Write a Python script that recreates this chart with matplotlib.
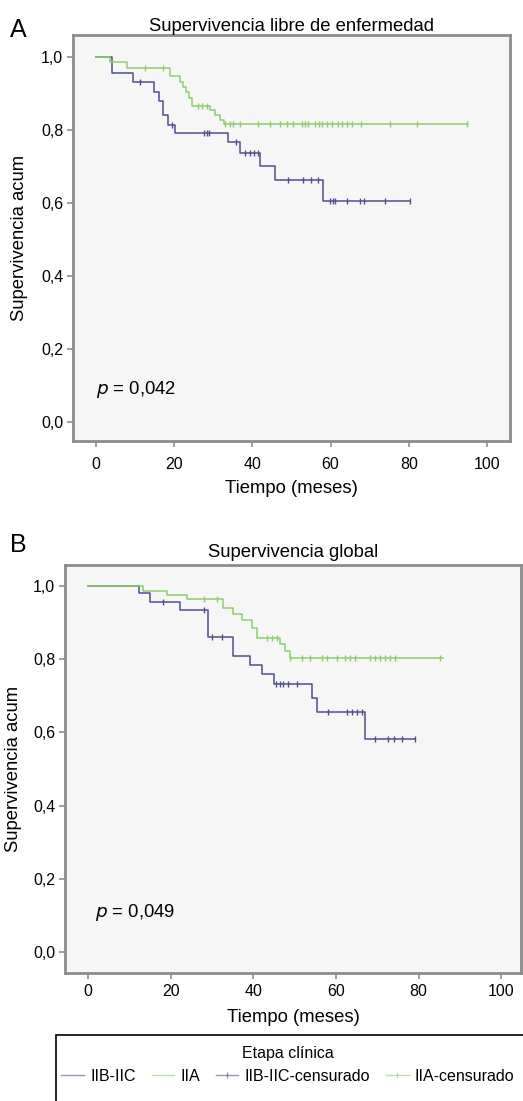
import numpy as np
import matplotlib
matplotlib.use("Agg")
import matplotlib.pyplot as plt
from matplotlib.lines import Line2D
from matplotlib.patches import Rectangle

plt.rcParams['font.family'] = ['Liberation Sans', 'DejaVu Sans']

# ── data ──────────────────────────────────────────────────────────────────────
# A: Supervivencia libre de enfermedad
a_blue_t    = [0, 4.1, 9.5, 14.7, 16.0, 17.2, 18.5, 20.2, 33.8, 36.8, 42.0, 45.8, 58.1]
a_blue_s    = [1.0, 0.956, 0.932, 0.905, 0.878, 0.841, 0.814, 0.792, 0.768, 0.736, 0.700, 0.663, 0.604]
a_blue_cens = [11.3, 19.5, 27.5, 28.3, 29.0, 35.8, 38.0, 39.5, 40.5, 41.5, 49.0, 52.9, 55.0,
               56.7, 59.8, 60.5, 61.2, 64.2, 67.6, 68.5, 74.0, 80.3]
a_blue_end  = 80.3

a_green_t    = [0, 3.6, 7.8, 19.0, 21.5, 22.3, 23.0, 23.8, 24.6, 29.2, 30.4, 31.7, 32.7]
a_green_s    = [1.0, 0.985, 0.970, 0.948, 0.932, 0.918, 0.903, 0.887, 0.866, 0.855, 0.841, 0.827, 0.816]
a_green_cens = [12.5, 17.2, 26.0, 27.2, 28.3, 33.0, 34.3, 35.1, 36.8, 41.5, 44.5, 47.1, 48.8,
                50.5, 52.6, 53.5, 54.3, 56.0, 57.0, 57.7, 59.0, 60.3, 62.0, 62.8, 64.1, 65.4,
                67.9, 75.2, 82.0, 94.8]
a_green_end  = 95.2

# B: Supervivencia global
b_blue_t    = [0, 12.4, 15.0, 22.3, 29.0, 35.0, 39.2, 42.0, 44.9, 54.2, 55.4, 67.1]
b_blue_s    = [1.0, 0.980, 0.957, 0.934, 0.861, 0.809, 0.784, 0.760, 0.731, 0.694, 0.656, 0.582]
b_blue_cens = [18.2, 28.1, 30.0, 32.4, 45.5, 46.5, 47.3, 48.5, 50.5, 58.2, 62.6, 64.0, 65.2,
               66.2, 69.5, 72.7, 74.0, 76.0, 79.2]
b_blue_end  = 79.2

b_green_t    = [0, 13.4, 19.0, 23.9, 32.7, 35.2, 37.2, 39.6, 40.8, 46.5, 47.7, 48.9]
b_green_s    = [1.0, 0.987, 0.975, 0.964, 0.940, 0.923, 0.907, 0.885, 0.857, 0.840, 0.822, 0.802]
b_green_cens = [28.0, 31.1, 43.4, 44.5, 45.7, 48.9, 51.7, 53.8, 56.6, 57.9, 60.2, 62.2, 63.4,
                64.6, 68.3, 69.5, 70.7, 71.9, 73.1, 74.3, 85.2]
b_green_end  = 86.0

x_ticks  = [0, 20, 40, 60, 80, 100]
y_ticks  = [0.0, 0.2, 0.4, 0.6, 0.8, 1.0]
y_labels = ['0,0', '0,2', '0,4', '0,6', '0,8', '1,0']
p_values = ['0,042', '0,049']
groups   = ['IIB-IIC', 'IIA', 'IIB-IIC-censurado', 'IIA-censurado']

BLUE  = '#4f4f8c'
GREEN = '#8fcd6e'


def km_curve(ax, t, s, cens, t_end, color):
    t_all = list(t) + [t_end]
    s_all = list(s) + [s[-1]]
    ax.step(t_all, s_all, where='post', color=color, lw=1.1, zorder=3)
    idx = np.searchsorted(t, cens, side='right') - 1
    ax.plot(cens, np.asarray(s)[idx], ls='none', marker='|', ms=5, mew=1.0,
            color=color, zorder=4)


def style_axes(ax, xlim, ylim, xpad, xlabpad, ylabpad):
    ax.set_facecolor('#f6f6f6')
    ax.set_xlim(*xlim)
    ax.set_ylim(*ylim)
    ax.set_xticks(x_ticks)
    ax.set_yticks(y_ticks)
    ax.set_yticklabels(y_labels)
    for sp in ax.spines.values():
        sp.set_color('#8c8c8c')
        sp.set_linewidth(2.0)
    ax.tick_params(direction='out', length=4, width=1.2, color='#8c8c8c',
                   labelsize=11.5, pad=3)
    ax.tick_params(axis='x', pad=xpad)
    ax.set_ylabel('Supervivencia acum', fontsize=13.3, labelpad=ylabpad)
    ax.set_xlabel('Tiempo (meses)', fontsize=13.3, labelpad=xlabpad)


fig = plt.figure(figsize=(5.23, 11.01), dpi=100)

# ── panel A ───────────────────────────────────────────────────────────────────
axA = fig.add_axes([73 / 523, 1 - 441 / 1101, 437 / 523, 406 / 1101])
km_curve(axA, a_blue_t, a_blue_s, a_blue_cens, a_blue_end, BLUE)
km_curve(axA, a_green_t, a_green_s, a_green_cens, a_green_end, GREEN)
style_axes(axA, (-5.9, 105.9), (-0.052, 1.060), xpad=7.5, xlabpad=6, ylabpad=9.5)
axA.set_title('Supervivencia libre de enfermedad', fontsize=13.3, pad=3)
axA.text(0, 0.09, r'$p$ = ' + p_values[0], fontsize=13.3, va='center', ha='left')
fig.text(10 / 523, 1 - 30 / 1101, 'A', fontsize=18, va='center', ha='left')

# ── panel B ───────────────────────────────────────────────────────────────────
axB = fig.add_axes([65 / 523, 1 - 973 / 1101, 456 / 523, 408 / 1101])
km_curve(axB, b_blue_t, b_blue_s, b_blue_cens, b_blue_end, BLUE)
km_curve(axB, b_green_t, b_green_s, b_green_cens, b_green_end, GREEN)
style_axes(axB, (-5.57, 104.8), (-0.057, 1.057), xpad=4, xlabpad=7, ylabpad=8)
axB.set_title('Supervivencia global', fontsize=13.3, pad=6)
axB.text(1.7, 0.107, r'$p$ = ' + p_values[1], fontsize=13.3, va='center', ha='left')
fig.text(10 / 523, 1 - 545 / 1101, 'B', fontsize=18, va='center', ha='left')

# ── legend ────────────────────────────────────────────────────────────────────
fig.patches.append(Rectangle((56 / 523, -0.01), 0.95, (1101 - 1035) / 1101 + 0.01,
                             transform=fig.transFigure, fill=False,
                             edgecolor='black', lw=1.2))
handles = [
    Line2D([], [], color=BLUE, lw=1.0, alpha=0.6),
    Line2D([], [], color=GREEN, lw=1.0, alpha=0.6),
    Line2D([], [], color=BLUE, lw=1.0, alpha=0.6, marker='|', ms=5),
    Line2D([], [], color=GREEN, lw=1.0, alpha=0.6, marker='|', ms=5),
]
fig.legend(handles, groups, title='Etapa clínica', loc='upper center',
           bbox_to_anchor=(288 / 523, 1 - 1036 / 1101), ncol=4, frameon=False,
           fontsize=11.5, title_fontsize=11.5, handlelength=1.4, handletextpad=0.4,
           columnspacing=1.0, borderpad=0.1)

fig.savefig('out.png', dpi=100)
